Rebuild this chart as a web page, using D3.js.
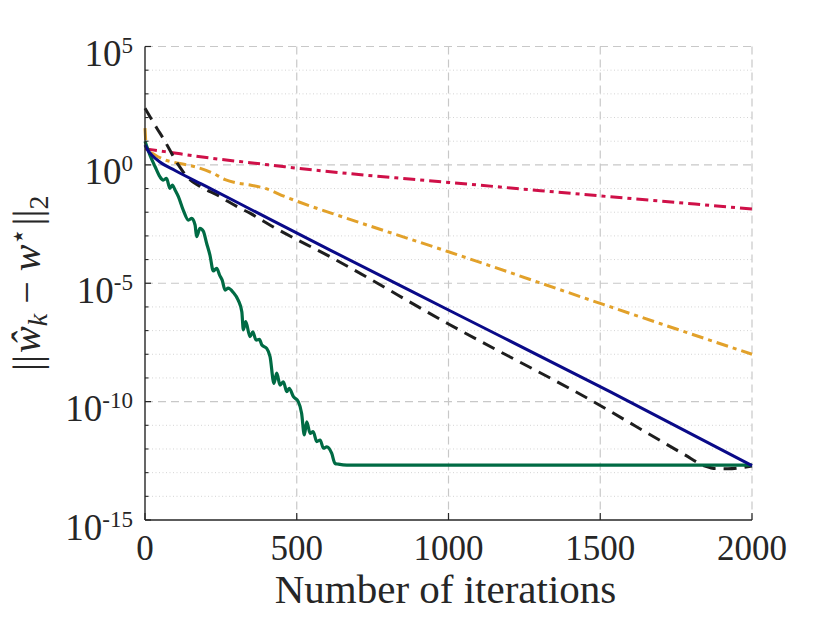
<!DOCTYPE html>
<html>
<head>
<meta charset="utf-8">
<script src="https://cdn.jsdelivr.net/npm/d3@7"></script>
<style>
  html, body { margin: 0; padding: 0; background: #fff; }
  svg { display: block; }
  text { font-family: "Liberation Serif", "Times New Roman", serif; fill: #262626; }
</style>
</head>
<body>
<svg id="chart" width="830" height="623"></svg>
<script>
// ---- data (iteration, log10 of error) ----
const xTicks = [0, 500, 1000, 1500, 2000];
const yTickExps = [5, 0, -5, -10, -15];
const yMinorExps = [4, 3, 2, 1, -1, -2, -3, -4, -6, -7, -8, -9, -11, -12, -13, -14];

const redIter = [0, 66, 220, 362, 461, 642, 1000, 1499, 2000];
const redLog10 = [0.68, 0.56, 0.28, 0.07, -0.08, -0.33, -0.74, -1.31, -1.86];

const orangeIter = [0, 3, 5, 33, 66, 110, 165, 220, 264, 300, 346, 395, 461, 554, 642, 1000, 1532, 2000];
const orangeLog10 = [1.55, 0.9, 0.70, 0.42, 0.21, 0.07, -0.08, -0.33, -0.62, -0.76, -0.85, -0.99, -1.34, -1.78, -2.16, -3.67, -5.99, -8.0];

const blackIter = [0, 39, 60, 110, 143, 180, 247, 274, 313, 346, 384, 417, 610, 1000, 1532, 1614, 1713, 1779, 1845, 1880, 1920, 2000];
const blackLog10 = [2.39, 1.55, 1.12, 0.0, -0.57, -0.90, -1.34, -1.55, -1.83, -2.04, -2.33, -2.58, -3.88, -6.72, -10.4, -11.02, -11.76, -12.25, -12.72, -12.83, -12.84, -12.72];

const blueIter = [0, 10, 22, 49, 99, 200, 400, 610, 1000, 1532, 2000];
const blueLog10 = [0.84, 0.6, 0.42, 0.12, -0.24, -0.9, -2.22, -3.60, -6.13, -9.58, -12.70];

const greenIter = [0, 16, 33, 49, 60, 71, 82, 90, 99, 110, 126, 143, 154, 165, 170, 181, 192, 203, 214, 225, 236, 247, 254, 264, 274, 291, 307, 319, 324, 332, 346, 355, 366, 377, 385, 401, 412, 425, 434, 445, 456, 467, 475, 489, 505, 516, 525, 533, 544, 554, 566, 577, 588, 599, 615, 626, 637, 665, 2000];
const greenLog10 = [1.0, 0.42, -0.07, -0.50, -0.64, -0.57, -0.99, -0.85, -1.06, -1.34, -1.91, -2.33, -2.26, -2.54, -3.03, -2.68, -2.80, -3.31, -3.81, -4.48, -4.37, -4.69, -4.86, -5.29, -5.21, -5.39, -5.71, -6.20, -6.97, -6.62, -7.26, -7.05, -7.40, -7.37, -7.61, -7.75, -8.10, -9.23, -8.80, -9.30, -9.16, -9.58, -9.44, -9.79, -10.00, -10.49, -11.41, -10.85, -11.34, -11.27, -11.69, -11.62, -11.97, -11.91, -12.18, -12.61, -12.64, -12.68, -12.68];

const xLabel = "Number of iterations";

// ---- layout ----
const L = 145, R = 752, T = 46.5, B = 520;
const svg = d3.select("#chart");
const x = d3.scaleLinear().domain([0, 2000]).range([L, R]);
const y = d3.scaleLog().domain([1e-15, 1e5]).range([B, T]);

const gridColor = "#c8c8c8";

// minor y grid (dotted)
svg.append("g").selectAll("line").data(yMinorExps).join("line")
  .attr("x1", L).attr("x2", R)
  .attr("y1", d => y(Math.pow(10, d))).attr("y2", d => y(Math.pow(10, d)))
  .attr("stroke", "#d4d4d4").attr("stroke-width", 1).attr("stroke-dasharray", "1,2.5");

// major y grid (dashed)
svg.append("g").selectAll("line").data(yTickExps.filter(e => e !== -15)).join("line")
  .attr("x1", L).attr("x2", R)
  .attr("y1", d => y(Math.pow(10, d))).attr("y2", d => y(Math.pow(10, d)))
  .attr("stroke", gridColor).attr("stroke-width", 1.2).attr("stroke-dasharray", "8,5");

// x grid (dashed)
svg.append("g").selectAll("line").data(xTicks.filter(v => v !== 0)).join("line")
  .attr("x1", d => x(d)).attr("x2", d => x(d))
  .attr("y1", T).attr("y2", B)
  .attr("stroke", gridColor).attr("stroke-width", 1.2).attr("stroke-dasharray", "8,5");

// ---- series ----
const line = d3.line()
  .x(d => x(d[0]))
  .y(d => y(Math.pow(10, d[1])))
  .curve(d3.curveMonotoneX);

function zip(a, b) { return a.map((v, i) => [v, b[i]]); }

const series = [
  { it: redIter, v: redLog10, color: "#cf1048", dash: "12,5,4,5", w: 3 },
  { it: orangeIter, v: orangeLog10, color: "#e2a12a", dash: "12,5,4,5", w: 3 },
  { it: blackIter, v: blackLog10, color: "#1e1e1e", dash: "13,8", w: 3 },
  { it: greenIter, v: greenLog10, color: "#006b44", dash: null, w: 3.2 },
  { it: blueIter, v: blueLog10, color: "#0a0a88", dash: null, w: 3 }
];

const plot = svg.append("g");
series.forEach(s => {
  plot.append("path")
    .datum(zip(s.it, s.v))
    .attr("d", line)
    .attr("fill", "none")
    .attr("stroke", s.color)
    .attr("stroke-width", s.w)
    .attr("stroke-linejoin", "round")
    .attr("stroke-dasharray", s.dash);
});

// ---- axes ----
const axisColor = "#262626";
svg.append("line").attr("x1", L).attr("x2", L).attr("y1", T).attr("y2", B)
  .attr("stroke", axisColor).attr("stroke-width", 1.4);
svg.append("line").attr("x1", L).attr("x2", R).attr("y1", B).attr("y2", B)
  .attr("stroke", axisColor).attr("stroke-width", 1.4);

// y ticks
svg.append("g").selectAll("line").data(yTickExps).join("line")
  .attr("x1", L).attr("x2", L + 6)
  .attr("y1", d => y(Math.pow(10, d))).attr("y2", d => y(Math.pow(10, d)))
  .attr("stroke", axisColor).attr("stroke-width", 1.2);
svg.append("g").selectAll("line").data(yMinorExps).join("line")
  .attr("x1", L).attr("x2", L + 3.5)
  .attr("y1", d => y(Math.pow(10, d))).attr("y2", d => y(Math.pow(10, d)))
  .attr("stroke", axisColor).attr("stroke-width", 1.1);

// x ticks
svg.append("g").selectAll("line").data(xTicks).join("line")
  .attr("x1", d => x(d)).attr("x2", d => x(d))
  .attr("y1", B).attr("y2", B - 7)
  .attr("stroke", axisColor).attr("stroke-width", 1.2);

// y tick labels
const yl = svg.append("g").selectAll("text").data(yTickExps).join("text")
  .attr("x", 133)
  .attr("y", d => y(Math.pow(10, d)) + 19.5)
  .attr("text-anchor", "end");
yl.append("tspan").attr("font-size", 37).text("10");
yl.append("tspan").attr("font-size", 23).attr("dy", -13).text(d => String(d));

// x tick labels
svg.append("g").selectAll("text").data(xTicks).join("text")
  .attr("x", d => x(d))
  .attr("y", 560)
  .attr("text-anchor", "middle")
  .attr("font-size", 35)
  .text(d => d);

// x label
svg.append("text")
  .attr("x", (L + R) / 2 - 3)
  .attr("y", 603)
  .attr("text-anchor", "middle")
  .attr("font-size", 41)
  .text(xLabel);

// y label: ||ŵ_k − w*||_2
const ylab = svg.append("text")
  .attr("transform", `translate(40, ${(T + B) / 2}) rotate(-90)`)
  .attr("text-anchor", "middle")
  .attr("font-size", 40);
ylab.append("tspan").attr("font-size", 40).text("||");
ylab.append("tspan").attr("font-style", "italic").attr("dx", 2).text("\u0175");
ylab.append("tspan").attr("font-style", "italic").attr("font-size", 28).attr("dy", 7).text("k");
ylab.append("tspan").attr("dy", -7).text(" \u2212 ");
ylab.append("tspan").attr("font-style", "italic").text("w");
ylab.append("tspan").attr("font-size", 27).attr("dy", -13).text("\u22C6");
ylab.append("tspan").attr("font-size", 40).attr("dy", 13).attr("dx", 2).text("||");
ylab.append("tspan").attr("font-size", 28).attr("dy", 8).text("2");
</script>
</body>
</html>
